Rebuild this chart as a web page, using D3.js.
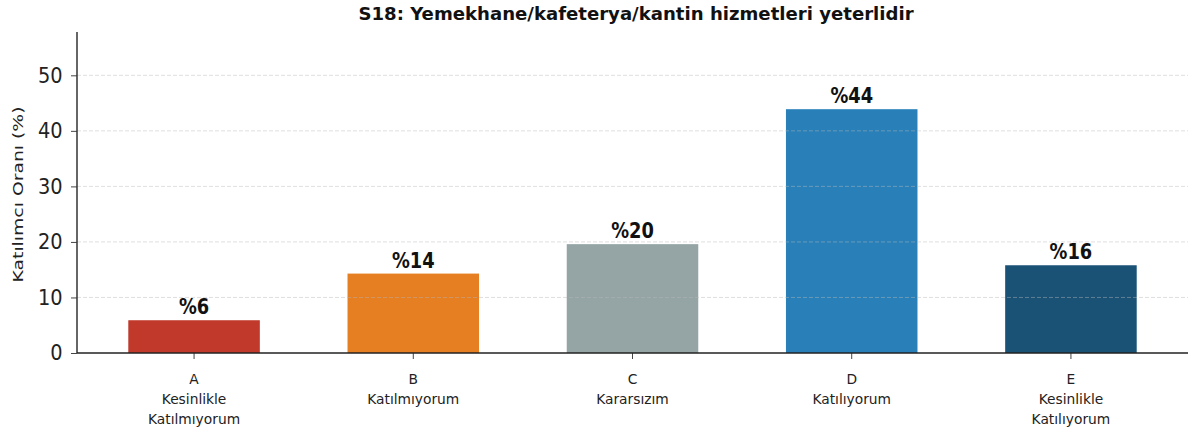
<!DOCTYPE html>
<html>
<head>
<meta charset="utf-8">
<script src="https://cdn.jsdelivr.net/npm/d3@7"></script>
<style>
  body { margin: 0; background: #fff; }
  text { font-family: "DejaVu Sans", sans-serif; }
</style>
</head>
<body>
<div id="chart"></div>
<script>
// chart data
var letters = ["A", "B", "C", "D", "E"]
var answers = [["Kesinlikle", "Katılmıyorum"], ["Katılmıyorum"], ["Kararsızım"], ["Katılıyorum"], ["Kesinlikle", "Katılıyorum"]]
var percents = [5.9, 14.3, 19.6, 43.9, 15.8]
var barColors = ["#c0392b", "#e67e22", "#95a5a6", "#2980b9", "#1a5276"]
var yTicks = [0, 10, 20, 30, 40, 50]
var yMax = 57.8

var W = 1192, H = 441
var margin = { top: 32, right: 4, bottom: 88, left: 77 }

var svg = d3.select("#chart")
    .append("svg")
    .attr("width", W)
    .attr("height", H)

var x = d3.scaleBand()
    .domain(letters)
    .range([margin.left, W - margin.right])
    .paddingInner(0.4)
    .paddingOuter(0.234)

var y = d3.scaleLinear()
    .domain([0, yMax])
    .range([H - margin.bottom, margin.top])

var data = letters.map((l, i) => ({ letter: l, lines: answers[i], value: percents[i], color: barColors[i] }))

// bars
svg.selectAll("rect.bar")
    .data(data)
    .enter()
    .append("rect")
    .attr("class", "bar")
    .attr("x", d => x(d.letter))
    .attr("y", d => y(d.value))
    .attr("width", x.bandwidth())
    .attr("height", d => y(0) - y(d.value))
    .attr("fill", d => d.color)

// dashed grid, drawn over the bars like the original
svg.append("g")
    .selectAll("line")
    .data(yTicks.filter(t => t > 0))
    .enter()
    .append("line")
    .attr("x1", margin.left)
    .attr("x2", W - margin.right)
    .attr("y1", d => y(d))
    .attr("y2", d => y(d))
    .attr("stroke", "#b8b8b8")
    .attr("stroke-opacity", 0.45)
    .attr("stroke-dasharray", "4,2")

// value labels (slightly condensed, as in the source image)
svg.selectAll("text.val")
    .data(data)
    .enter()
    .append("text")
    .attr("class", "val")
    .attr("transform", d => `translate(${x(d.letter) + x.bandwidth() / 2},${y(d.value) - 6}) scale(0.87,1)`)
    .attr("text-anchor", "middle")
    .attr("font-weight", "bold")
    .attr("font-size", 20.5)
    .attr("fill", "#111")
    .text(d => "%" + d3.format(".0f")(d.value))

// y axis
var yAxis = svg.append("g")
    .attr("transform", `translate(${margin.left},0)`)
    .call(d3.axisLeft(y).tickValues(yTicks).tickSize(6).tickPadding(10))
yAxis.select(".domain").remove()
yAxis.selectAll(".tick line").attr("stroke", "#444")
yAxis.selectAll(".tick text")
    .attr("font-size", 21.5)
    .attr("fill", "#222")
    .attr("transform", "scale(0.9,1)")
    .style("font-family", "DejaVu Sans")

svg.append("line")
    .attr("x1", margin.left).attr("x2", margin.left)
    .attr("y1", margin.top).attr("y2", y(0))
    .attr("stroke", "#333").attr("stroke-width", 1.5)

// x axis
var xAxis = svg.append("g")
    .attr("transform", `translate(0,${y(0)})`)
    .call(d3.axisBottom(x).tickSize(6).tickFormat(""))
xAxis.select(".domain").remove()
xAxis.selectAll(".tick line").attr("stroke", "#444")

svg.append("line")
    .attr("x1", margin.left).attr("x2", W - margin.right)
    .attr("y1", y(0)).attr("y2", y(0))
    .attr("stroke", "#222").attr("stroke-width", 1.5)

var xLabels = svg.selectAll("text.xlab")
    .data(data)
    .enter()
    .append("text")
    .attr("class", "xlab")
    .attr("x", d => x(d.letter) + x.bandwidth() / 2)
    .attr("y", y(0) + 31)
    .attr("text-anchor", "middle")
    .attr("font-size", 13.8)
    .attr("fill", "#222")

xLabels.each(function(d) {
    var t = d3.select(this)
    var lines = [d.letter].concat(d.lines)
    lines.forEach((s, i) => {
        t.append("tspan")
            .attr("x", x(d.letter) + x.bandwidth() / 2)
            .attr("dy", i == 0 ? 0 : 20)
            .text(s)
    })
})

// y label
svg.append("text")
    .attr("transform", `translate(23,${(margin.top + y(0)) / 2 + 2}) rotate(-90)`)
    .attr("text-anchor", "middle")
    .attr("font-size", 14.5)
    .attr("textLength", 176)
    .attr("lengthAdjust", "spacingAndGlyphs")
    .attr("fill", "#222")
    .text("Katılımcı Oranı (%)")

// title
svg.append("text")
    .attr("x", 636)
    .attr("y", 20)
    .attr("text-anchor", "middle")
    .attr("font-weight", "bold")
    .attr("font-size", 18.1)
    .attr("fill", "#111")
    .text("S18: Yemekhane/kafeterya/kantin hizmetleri yeterlidir")
</script>
</body>
</html>
